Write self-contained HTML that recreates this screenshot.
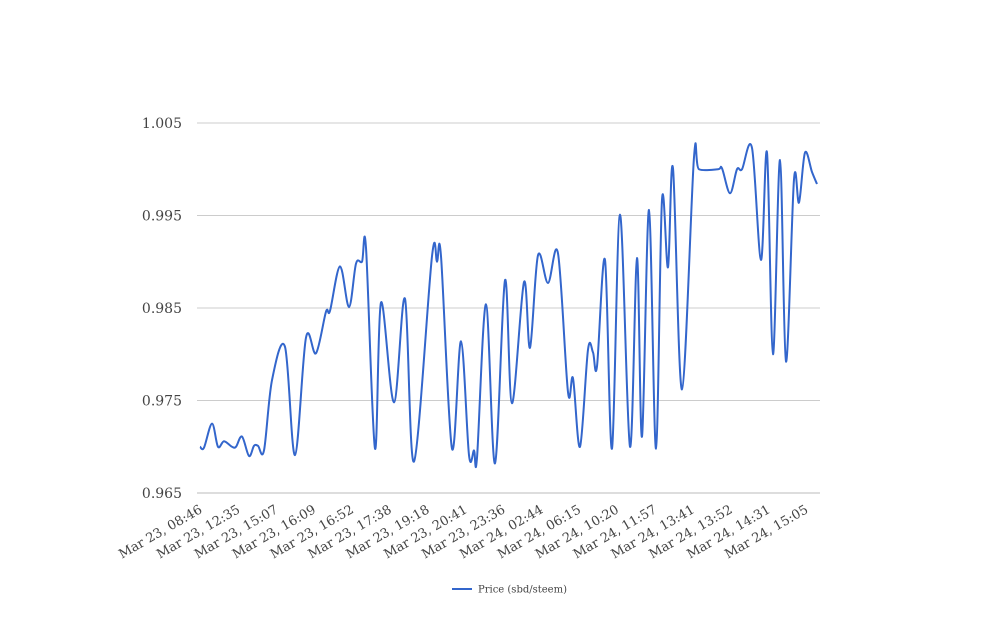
<!DOCTYPE html>
<html><head><meta charset="utf-8"><style>
body{margin:0;background:#fff;}
svg text{font-family:"DejaVu Serif","Liberation Serif",serif;fill:#444;}
</style></head><body>
<svg id="chart" width="1008" height="616" xmlns="http://www.w3.org/2000/svg">
<g id="grid"></g>
<g id="yaxis"></g>
<g id="xaxis"></g>
<path id="line" fill="none" stroke="#3366cc" stroke-width="2"></path>
<g>
<line x1="452" y1="589" x2="472" y2="589" stroke="#3366cc" stroke-width="2"/>
<text x="478" y="592.5" font-size="10" fill="#222">Price (sbd/steem)</text>
</g>
</svg>
<script>
const xLabels=["Mar 23, 08:46","Mar 23, 12:35","Mar 23, 15:07","Mar 23, 16:09","Mar 23, 16:52","Mar 23, 17:38","Mar 23, 19:18","Mar 23, 20:41","Mar 23, 23:36","Mar 24, 02:44","Mar 24, 06:15","Mar 24, 10:20","Mar 24, 11:57","Mar 24, 13:41","Mar 24, 13:52","Mar 24, 14:31","Mar 24, 15:05"];
const yTicks=[0.965,0.975,0.985,0.995,1.005];
const tPos=[0,4,12,18,24,32,36,42,49,54,58,64,72,85,95,106,116,126,130,140,149,156,162,166,175,181,194,205,214,232,237,241,252,261,269,274,277,286,295,305,312,324,330,338,348,358,368,373,380,388,393,397,405,412,420,430,437,442,449,456,462,468,473,482,494,499,518,522,530,537,542,552,561,567,573,580,586,594,599,605,612,617];
const prices=[0.9700,0.9699,0.9725,0.9700,0.9706,0.9700,0.9700,0.9711,0.9690,0.9701,0.9701,0.9696,0.9772,0.9808,0.9691,0.9818,0.9801,0.9846,0.9847,0.9895,0.9851,0.9898,0.9900,0.9915,0.9698,0.9856,0.9748,0.9860,0.9684,0.9906,0.9900,0.9906,0.9698,0.9814,0.9691,0.9696,0.9688,0.9854,0.9682,0.9880,0.9747,0.9878,0.9807,0.9907,0.9877,0.9909,0.9759,0.9774,0.9700,0.9805,0.9802,0.9787,0.9902,0.9698,0.9951,0.9700,0.9904,0.9711,0.9956,0.9698,0.9967,0.9894,1.0001,0.9762,1.0013,1.0000,1.0000,1.0001,0.9974,1.0000,1.0000,1.0023,0.9902,1.0018,0.9800,1.0010,0.9792,0.9989,0.9964,1.0018,0.9997,0.9984];
const X0=197,X1=820,Y0=493,Y1=123;
const yScale=v=>Y0+(v-0.965)/(1.005-0.965)*(Y1-Y0);
const xScale=t=>200+t;
const NS="http://www.w3.org/2000/svg";
const grid=document.getElementById('grid'),ya=document.getElementById('yaxis'),xa=document.getElementById('xaxis');
yTicks.forEach(v=>{
 const l=document.createElementNS(NS,'line');
 
 
 const y=yScale(v);
 l.setAttribute('x1',X0);l.setAttribute('x2',X1);l.setAttribute('y1',y);l.setAttribute('y2',y);
 l.setAttribute('stroke',v===0.965?'#bbb':'#ccc');l.setAttribute('stroke-width','1');
 grid.appendChild(l);
 const t=document.createElementNS(NS,'text');
 
 
 t.setAttribute('x',182);t.setAttribute('y',y+5);t.setAttribute('text-anchor','end');t.setAttribute('font-size','14');
 t.textContent=v.toFixed(3);ya.appendChild(t);
});
const n=xLabels.length;
xLabels.forEach((s,i)=>{
 const x=203+i*(809-203)/(n-1), y=512;
 const t=document.createElementNS(NS,'text');
 
 
 t.setAttribute('x',x);t.setAttribute('y',y);t.setAttribute('text-anchor','end');t.setAttribute('font-size','13');
 t.setAttribute('transform','rotate(-30 '+x+' '+y+')');
 t.textContent=s;xa.appendChild(t);
});
const pts=prices.map((v,i)=>[xScale(tPos[i]),yScale(v)]);
let d='M'+pts[0][0]+','+pts[0][1];
for(let i=0;i<pts.length-1;i++){
 const p0=pts[Math.max(0,i-1)],p1=pts[i],p2=pts[i+1],p3=pts[Math.min(pts.length-1,i+2)];
 const k=1/6;
 const c1=[p1[0]+(p2[0]-p0[0])*k,p1[1]+(p2[1]-p0[1])*k];
 const c2=[p2[0]-(p3[0]-p1[0])*k,p2[1]-(p3[1]-p1[1])*k];
 d+=' C'+c1[0]+','+c1[1]+' '+c2[0]+','+c2[1]+' '+p2[0]+','+p2[1];
}
document.getElementById('line').setAttribute('d',d);
</script>
</body></html>
